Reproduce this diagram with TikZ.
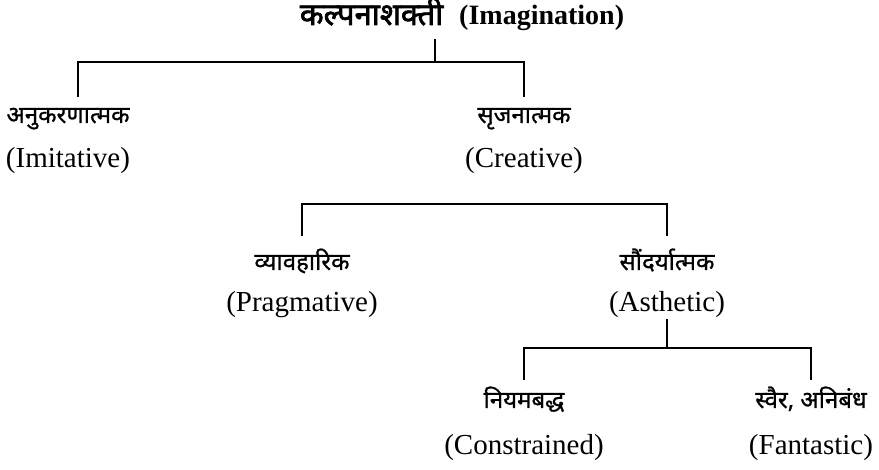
\documentclass[tikz,border=0pt]{standalone}
\usepackage{fontspec}
\setmainfont{Liberation Serif}
\newfontfamily\deva[Script=Devanagari,FakeBold=0.8]{Noto Sans}
\newfontfamily\devab[Script=Devanagari,FakeBold=2.2]{Noto Sans}
\begin{document}
\begin{tikzpicture}[x=1pt,y=-1pt,
  conn/.style={line width=2.3pt, line join=miter, line cap=butt},
  dv/.style={anchor=base, inner sep=0pt, font=\deva\fontsize{24}{24}\selectfont},
  en/.style={anchor=base, inner sep=0pt, font=\fontsize{29}{29}\selectfont}]
\useasboundingbox (0,0) rectangle (879,470);
% title
\node[anchor=base, inner sep=0pt, font=\fontsize{28}{28}\selectfont\bfseries] (title) at (462,25)
  {{\devab\fontsize{31}{31}\selectfont कल्पनाशक्ती}\hspace{16pt}(Imagination)};
% level 1
\node[dv] (imitd) at (68,123) {अनुकरणात्मक};
\node[en] (imite) at (68,168) {(Imitative)};
\node[dv] (cread) at (524,123) {सृजनात्मक};
\node[en] (creae) at (524,168) {(Creative)};
% level 2
\node[dv] (pragd) at (302,270) {व्यावहारिक};
\node[en] (prage) at (302,312) {(Pragmative)};
\node[dv] (asthd) at (667,270) {सौंदर्यात्मक};
\node[en] (asthe) at (667,312) {(Asthetic)};
% level 3
\node[dv] (consd) at (524,408) {नियमबद्ध};
\node[en] (conse) at (524,455) {(Constrained)};
\node[dv] (fantd) at (811,408) {स्वैर, अनिबंध};
\node[en] (fante) at (811,455) {(Fantastic)};
% connectors
\coordinate (t1) at (435,39);
\coordinate (j1) at (435,62);
\coordinate (d1) at (78,97);
\coordinate (h2) at (485,204);
\coordinate (h3) at (667,348);
\draw[conn] (t1) -- (j1);
\draw[conn] (d1) |- (j1) -| ([yshift=26pt]cread.base);
\draw[conn] ([yshift=34pt]pragd.base) |- (h2) -| ([yshift=34pt]asthd.base);
\draw[conn] ([yshift=-7pt]asthe.base) -- (h3);
\draw[conn] ([yshift=28pt]consd.base) |- (h3) -| ([yshift=28pt]fantd.base);
\end{tikzpicture}
\end{document}
